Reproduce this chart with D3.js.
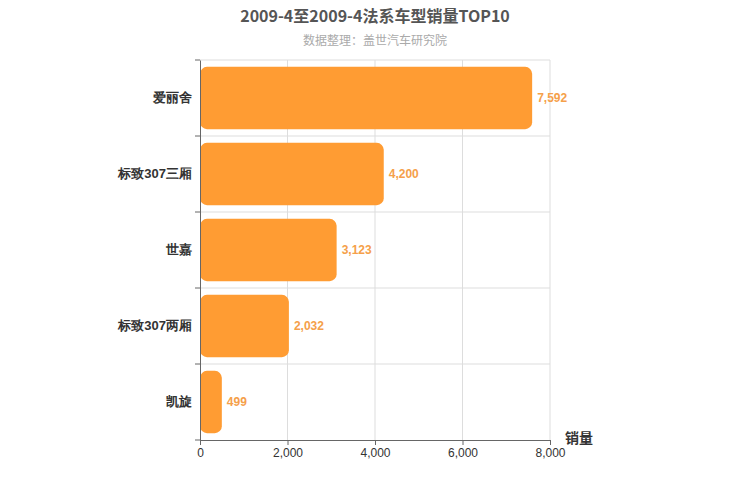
<!DOCTYPE html>
<html><head><meta charset="utf-8">
<script src="https://cdn.jsdelivr.net/npm/d3@7"></script>
<style>body{margin:0;background:#fff;font-family:"Noto Sans CJK SC",sans-serif}</style>
</head><body><svg id="c" width="750" height="500"></svg>
<script>
const categories=["爱丽舍","标致307三厢","世嘉","标致307两厢","凯旋"];
const values=[7592,4200,3123,2032,499];
const xTicks=[0,2000,4000,6000,8000];
const svg=d3.select("#c");
const L=200,R=550,T=60,B=440;
const x=d3.scaleLinear().domain([0,8000]).range([L,R]);
const y=d3.scaleBand().domain(categories).range([T,B]).paddingInner(0.18).paddingOuter(0.09);
const yb=d3.scaleBand().domain(categories).range([T,B]);
const fmt=d3.format(",");
// grid
svg.selectAll(".gv").data(xTicks.slice(1)).join("line").attr("x1",d=>x(d)).attr("x2",d=>x(d)).attr("y1",T).attr("y2",B).attr("stroke","#ddd");
svg.selectAll(".gh").data(categories).join("line").attr("x1",L).attr("x2",R).attr("y1",d=>yb(d)).attr("y2",d=>yb(d)).attr("stroke","#ddd");
// bars
svg.selectAll(".bar").data(categories).join("rect").attr("x",L).attr("y",d=>y(d)).attr("width",(d,i)=>x(values[i])-L).attr("height",y.bandwidth()).attr("rx",7).attr("fill","#ff9c33");
svg.selectAll(".lab").data(categories).join("text").attr("x",(d,i)=>x(values[i])+5).attr("y",d=>y(d)+y.bandwidth()/2+4).text((d,i)=>fmt(values[i])).attr("fill","#f5a04a").attr("font-size",12).attr("font-weight","bold").attr("font-family","Arial,Liberation Sans,sans-serif");
// axes
const xa=svg.append("g").attr("transform",`translate(0,${B})`).call(d3.axisBottom(x).tickValues(xTicks).tickFormat(fmt).tickSize(5));
xa.select(".domain").attr("stroke","#666");xa.selectAll("line").attr("stroke","#666");
xa.selectAll("text").attr("fill","#333").attr("font-size",12).attr("font-family","Arial,Liberation Sans,sans-serif");
const ya=svg.append("g").attr("transform",`translate(${L},0)`).call(d3.axisLeft(yb).tickSize(0).tickPadding(8));
ya.select(".domain").attr("stroke","#666");
ya.selectAll("text").attr("fill","#333").attr("font-size",13).attr("font-weight","bold");
svg.selectAll(".yt").data(categories.concat(["end"])).join("line").attr("x1",195).attr("x2",L).attr("y1",(d,i)=>T+i*yb.step()).attr("y2",(d,i)=>T+i*yb.step()).attr("stroke","#666");
svg.append("text").attr("x",565).attr("y",443).text("销量").attr("font-size",14).attr("font-weight","bold").attr("fill","#333");
svg.append("text").attr("x",375).attr("y",22).attr("text-anchor","middle").text("2009-4至2009-4法系车型销量TOP10").attr("font-size",16).attr("font-weight","bold").attr("fill","#555");
svg.append("text").attr("x",375).attr("y",45).attr("text-anchor","middle").text("数据整理：盖世汽车研究院").attr("font-size",12).attr("fill","#aaa");
</script></body></html>
